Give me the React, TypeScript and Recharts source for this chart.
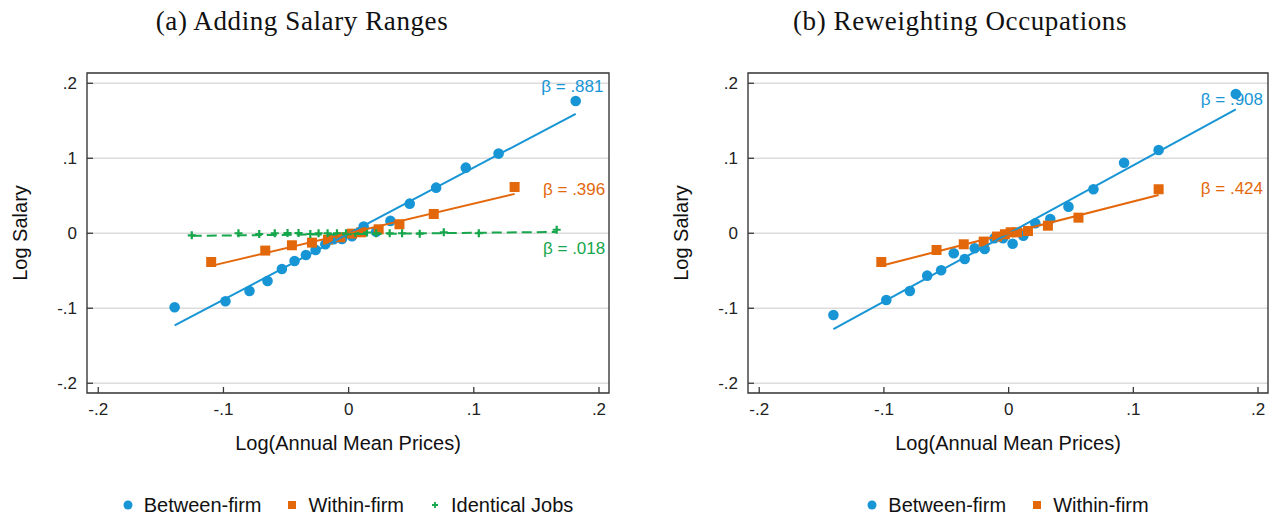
import React from "react";
import {
  ScatterChart,
  Scatter,
  XAxis,
  YAxis,
  CartesianGrid,
  ReferenceArea,
  ReferenceDot,
  Legend,
  Label,
} from "recharts";

// panel (a): Adding Salary Ranges
const betweenA = [
  { x: -0.139, y: -0.0987 },
  { x: -0.0984, y: -0.0907 },
  { x: -0.0792, y: -0.0769 },
  { x: -0.0648, y: -0.0636 },
  { x: -0.0533, y: -0.0476 },
  { x: -0.0432, y: -0.0369 },
  { x: -0.0341, y: -0.0289 },
  { x: -0.0264, y: -0.0222 },
  { x: -0.0186, y: -0.0147 },
  { x: -0.012, y: -0.008 },
  { x: -0.0053, y: -0.0077 },
  { x: 0.0027, y: -0.004 },
  { x: 0.012, y: 0.0089 },
  { x: 0.022, y: 0.002 },
  { x: 0.0334, y: 0.0165 },
  { x: 0.0488, y: 0.0395 },
  { x: 0.0699, y: 0.0608 },
  { x: 0.0936, y: 0.0875 },
  { x: 0.1198, y: 0.1062 },
  { x: 0.1814, y: 0.1764 },
];

const withinA = [
  { x: -0.1098, y: -0.0383 },
  { x: -0.0666, y: -0.0231 },
  { x: -0.0453, y: -0.016 },
  { x: -0.0293, y: -0.0125 },
  { x: -0.0165, y: -0.0085 },
  { x: -0.0066, y: -0.0053 },
  { x: 0.0027, y: -0.0005 },
  { x: 0.0101, y: 0.0013 },
  { x: 0.024, y: 0.0053 },
  { x: 0.0406, y: 0.012 },
  { x: 0.068, y: 0.0257 },
  { x: 0.1326, y: 0.0617 },
];

const identicalA = [
  { x: -0.1253, y: -0.0027 },
  { x: -0.088, y: 0.0 },
  { x: -0.0714, y: -0.001 },
  { x: -0.059, y: 0.0 },
  { x: -0.0488, y: 0.0003 },
  { x: -0.04, y: 0.0003 },
  { x: -0.0306, y: -0.001 },
  { x: -0.024, y: 0.0 },
  { x: -0.0168, y: 0.0 },
  { x: -0.0093, y: 0.0 },
  { x: -0.0021, y: 0.0 },
  { x: 0.0053, y: 0.0003 },
  { x: 0.0147, y: 0.001 },
  { x: 0.022, y: 0.0 },
  { x: 0.0328, y: 0.0 },
  { x: 0.0427, y: 0.0 },
  { x: 0.0568, y: -0.0005 },
  { x: 0.076, y: 0.0013 },
  { x: 0.104, y: 0.0 },
  { x: 0.1662, y: 0.0047 },
];

// panel (b): Reweighting Occupations
const betweenB = [
  { x: -0.1405, y: -0.109 },
  { x: -0.0981, y: -0.0889 },
  { x: -0.0792, y: -0.0769 },
  { x: -0.0653, y: -0.0565 },
  { x: -0.0541, y: -0.0493 },
  { x: -0.044, y: -0.0267 },
  { x: -0.0352, y: -0.0343 },
  { x: -0.0272, y: -0.02 },
  { x: -0.0192, y: -0.0209 },
  { x: -0.0114, y: -0.0067 },
  { x: -0.0045, y: -0.0067 },
  { x: 0.0032, y: -0.0139 },
  { x: 0.0118, y: -0.0033 },
  { x: 0.0214, y: 0.0133 },
  { x: 0.0334, y: 0.019 },
  { x: 0.048, y: 0.0355 },
  { x: 0.068, y: 0.0587 },
  { x: 0.0926, y: 0.0941 },
  { x: 0.1203, y: 0.111 },
  { x: 0.1822, y: 0.1857 },
];

const withinB = [
  { x: -0.1021, y: -0.0383 },
  { x: -0.0578, y: -0.0223 },
  { x: -0.036, y: -0.0147 },
  { x: -0.02, y: -0.0111 },
  { x: -0.0093, y: -0.0044 },
  { x: -0.003, y: -0.0013 },
  { x: 0.0016, y: 0.0013 },
  { x: 0.0067, y: 0.0013 },
  { x: 0.0155, y: 0.003 },
  { x: 0.0315, y: 0.0101 },
  { x: 0.056, y: 0.0208 },
  { x: 0.1203, y: 0.0587 },
];

// slopes shown in the picture, intercepts
const betasA = { between: 0.881, within: 0.396, identical: 0.018 };
const interceptsA = { between: -0.0005, within: 0, identical: -0.0012 };
const betasB = { between: 0.908, within: 0.424 };
const interceptsB = { between: -0.0002, within: 0 };

const xTicks = [-0.2, -0.1, 0, 0.1, 0.2];
const yTicks = [-0.2, -0.1, 0, 0.1, 0.2];
const X_DOMAIN: [number, number] = [-0.209, 0.208];
const Y_DOMAIN: [number, number] = [-0.213, 0.2137];

const BLUE = "#1795d5";
const ORANGE = "#e3680b";
const GREEN = "#16a64b";
const FRAME = "#3a3a3a";
const SANS = "'Liberation Sans', Arial, sans-serif";

const fmt = (v: number) =>
  v === 0 ? "0" : `${v < 0 ? "-" : ""}.${Math.round(Math.abs(v) * 10)}`;

function fitLine(points: { x: number; y: number }[], slope: number, intercept: number) {
  const xs = points.map((p) => p.x);
  const lo = Math.min(...xs);
  const hi = Math.max(...xs);
  return [
    { x: lo, y: intercept + slope * lo },
    { x: hi, y: intercept + slope * hi },
  ];
}

const dotShape = (color: string) => (p: any) => <circle cx={p.cx} cy={p.cy} r={5.3} fill={color} />;
const squareShape = (color: string) => (p: any) => (
  <rect x={p.cx - 5} y={p.cy - 5} width={10} height={10} fill={color} />
);
const plusShape = (color: string) => (p: any) => (
  <path
    d={`M${p.cx - 4},${p.cy}H${p.cx + 4}M${p.cx},${p.cy - 4}V${p.cy + 4}`}
    stroke={color}
    strokeWidth={2.2}
  />
);
const noShape = () => <g />;

type Kind = "dot" | "square" | "plus";
type LegendItem = { label: string; color: string; kind: Kind };

function LegendIcon({ kind, color }: { kind: Kind; color: string }) {
  return (
    <svg width={10} height={10} style={{ display: "block" }}>
      {kind === "dot" && <circle cx={5} cy={5} r={4.5} fill={color} />}
      {kind === "square" && <rect x={1} y={1} width={8} height={8} fill={color} />}
      {kind === "plus" && <path d="M2,5H8M5,2V8" stroke={color} strokeWidth={1.8} />}
    </svg>
  );
}

function legendContent(items: LegendItem[]) {
  return () => (
    <div
      style={{
        display: "flex",
        justifyContent: "center",
        alignItems: "center",
        gap: 26,
        fontFamily: SANS,
        fontSize: 20,
        color: "#111",
        height: 24,
      }}
    >
      {items.map((it) => (
        <div key={it.label} style={{ display: "flex", alignItems: "center", gap: 11 }}>
          <LegendIcon kind={it.kind} color={it.color} />
          <span>{it.label}</span>
        </div>
      ))}
    </div>
  );
}

type Series = { name: string; data: { x: number; y: number }[]; color: string; kind: Kind; fit: { x: number; y: number }[]; dashed?: boolean };
type Beta = { text: string; x: number; y: number; color: string };

function Panel({
  width,
  marginLeft,
  marginRight,
  series,
  betas,
}: {
  width: number;
  marginLeft: number;
  marginRight: number;
  series: Series[];
  betas: Beta[];
}) {
  const plotLeft = marginLeft + 87;
  const plotWidth = width - plotLeft - marginRight;
  const shapeFor = (s: Series) =>
    s.kind === "dot" ? dotShape(s.color) : s.kind === "square" ? squareShape(s.color) : plusShape(s.color);
  return (
    <ScatterChart width={width} height={517} margin={{ top: 73, right: marginRight, bottom: 54, left: marginLeft }}>
      <CartesianGrid vertical={false} stroke="#dcdcdc" strokeWidth={1.3} />
      <ReferenceArea
        x1={X_DOMAIN[0]}
        x2={X_DOMAIN[1]}
        y1={Y_DOMAIN[0]}
        y2={Y_DOMAIN[1]}
        fill="none"
        stroke={FRAME}
        strokeWidth={1.4}
        fillOpacity={0}
        strokeOpacity={1}
      />
      <XAxis
        type="number"
        dataKey="x"
        domain={X_DOMAIN}
        ticks={xTicks}
        tickFormatter={fmt}
        allowDataOverflow
        axisLine={false}
        tickLine={{ stroke: FRAME, strokeWidth: 1.3 }}
        tickSize={-6}
        tickMargin={16}
        tick={{ fill: "#222", fontSize: 17, fontFamily: SANS }}
        height={70}
      >
        <Label
          content={({ viewBox }: any) => (
            <text
              x={viewBox.x + viewBox.width / 2}
              y={viewBox.y + 57}
              textAnchor="middle"
              fontSize={20}
              fontFamily={SANS}
              fill="#111"
            >
              Log(Annual Mean Prices)
            </text>
          )}
        />
      </XAxis>
      <YAxis
        type="number"
        dataKey="y"
        domain={Y_DOMAIN}
        ticks={yTicks}
        tickFormatter={fmt}
        allowDataOverflow
        axisLine={false}
        tickLine={{ stroke: FRAME, strokeWidth: 1.3 }}
        tickSize={-6}
        tickMargin={16}
        tick={{ fill: "#222", fontSize: 17, fontFamily: SANS }}
        width={87}
      >
        <Label
          content={({ viewBox }: any) => {
            const cx = viewBox.x + 20;
            const cy = viewBox.y + viewBox.height / 2;
            return (
              <text
                x={cx}
                y={cy}
                transform={`rotate(-90 ${cx} ${cy})`}
                textAnchor="middle"
                dominantBaseline="central"
                fontSize={20}
                fontFamily={SANS}
                fill="#111"
              >
                Log Salary
              </text>
            );
          }}
        />
      </YAxis>
      {series.map((s) => (
        <Scatter
          key={s.name}
          name={s.name}
          data={s.data}
          shape={shapeFor(s)}
          isAnimationActive={false}
        />
      ))}
      {series.map((s) => (
        <Scatter
          key={s.name + "-fit"}
          name={s.name + " fit"}
          data={s.fit}
          shape={noShape}
          line={{ stroke: s.color, strokeWidth: 2, strokeDasharray: s.dashed ? "10 5" : undefined }}
          legendType="none"
          isAnimationActive={false}
        />
      ))}
      {betas.map((b) => (
        <ReferenceDot
          key={b.text}
          x={b.x}
          y={b.y}
          r={1}
          shape={(p: any) => (
            <text x={p.cx} y={p.cy} textAnchor="end" fontSize={17} fontFamily={SANS} fill={b.color}>
              {b.text}
            </text>
          )}
        />
      ))}
      <Legend
        layout="horizontal"
        verticalAlign="middle"
        align="center"
        wrapperStyle={{ top: 493, left: plotLeft, width: plotWidth }}
        content={legendContent(series.map((s) => ({ label: s.name, color: s.color, kind: s.kind })))}
      />
    </ScatterChart>
  );
}

const seriesA: Series[] = [
  { name: "Between-firm", data: betweenA, color: BLUE, kind: "dot", fit: fitLine(betweenA, betasA.between, interceptsA.between) },
  { name: "Within-firm", data: withinA, color: ORANGE, kind: "square", fit: fitLine(withinA, betasA.within, interceptsA.within) },
  { name: "Identical Jobs", data: identicalA, color: GREEN, kind: "plus", fit: fitLine(identicalA, betasA.identical, interceptsA.identical), dashed: true },
];

const seriesB: Series[] = [
  { name: "Between-firm", data: betweenB, color: BLUE, kind: "dot", fit: fitLine(betweenB, betasB.between, interceptsB.between) },
  { name: "Within-firm", data: withinB, color: ORANGE, kind: "square", fit: fitLine(withinB, betasB.within, interceptsB.within) },
];

const betaLabelsA: Beta[] = [
  { text: "β = .881", x: 0.2036, y: 0.1888, color: BLUE },
  { text: "β = .396", x: 0.205, y: 0.051, color: ORANGE },
  { text: "β = .018", x: 0.205, y: -0.028, color: GREEN },
];

const betaLabelsB: Beta[] = [
  { text: "β = .908", x: 0.204, y: 0.171, color: BLUE },
  { text: "β = .424", x: 0.204, y: 0.0524, color: ORANGE },
];

const titleStyle: React.CSSProperties = {
  position: "absolute",
  top: 8,
  width: 600,
  textAlign: "center",
  fontFamily: "'Liberation Serif', 'Times New Roman', serif",
  fontSize: 27,
  lineHeight: "26px",
  letterSpacing: 0.6,
  color: "#111",
  whiteSpace: "nowrap",
};

export default function App() {
  return (
    <div style={{ position: "absolute", left: 0, top: 0, width: 1271, height: 517, background: "#fff" }}>
      <div style={{ ...titleStyle, left: 2 }}>(a) Adding Salary Ranges</div>
      <div style={{ ...titleStyle, left: 660 }}>(b) Reweighting Occupations</div>
      <div style={{ position: "absolute", left: 0, top: 0 }}>
        <Panel width={640} marginLeft={0} marginRight={31} series={seriesA} betas={betaLabelsA} />
      </div>
      <div style={{ position: "absolute", left: 640, top: 0 }}>
        <Panel width={631} marginLeft={21} marginRight={3} series={seriesB} betas={betaLabelsB} />
      </div>
    </div>
  );
}
